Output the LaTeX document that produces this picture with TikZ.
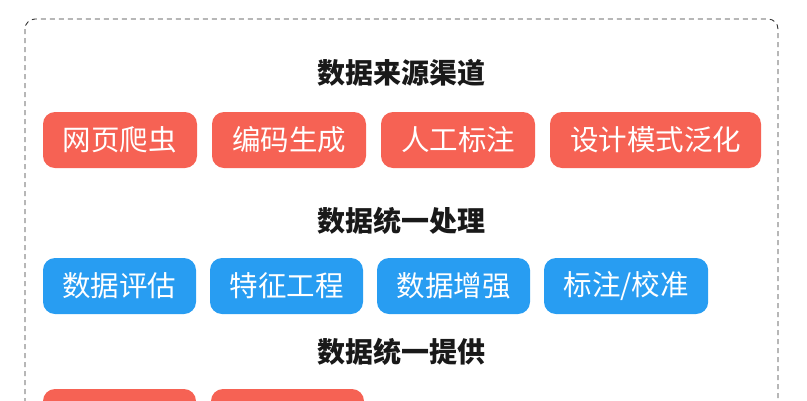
\documentclass[tikz,border=0pt]{standalone}
\usepackage{fontspec}
\setmainfont{Noto Sans CJK SC}
\usetikzlibrary{positioning}

\definecolor{boxred}{RGB}{246,98,84}
\definecolor{boxblue}{RGB}{40,157,242}
\definecolor{titleink}{RGB}{25,25,25}

\begin{document}
\begin{tikzpicture}[x=1pt,y=-1pt,
  title/.style={font=\fontsize{28}{32}\selectfont\bfseries,text=titleink,inner sep=0pt},
  tag/.style={rounded corners=12pt,minimum height=56pt,inner xsep=20pt,inner ysep=0pt,
    outer sep=0pt,text=white,font=\fontsize{28.5}{32}\selectfont},
  red/.style={tag,fill=boxred},
  blue/.style={tag,fill=boxblue,inner xsep=19.5pt},
  node distance=15pt]
\useasboundingbox (0,0) rectangle (807,400);
\draw[dash pattern=on 5pt off 4pt,line width=0.9pt,black!80,rounded corners=10pt]
  (25,19) rectangle (778,440);
% sources
\node[title] (src) at (401,73) {数据来源渠道};
\node[red,anchor=west] (s1) at (43,140) {网页爬虫};
\node[red,right=of s1] (s2) {编码生成};
\node[red,right=of s2] (s3) {人工标注};
\node[red,right=of s3] (s4) {设计模式泛化};
% processing
\node[title] (proc) at (401,221) {数据统一处理};
\node[blue,anchor=west] (p1) at (43,286) {数据评估};
\node[blue,right=14pt of p1] (p2) {特征工程};
\node[blue,right=14pt of p2] (p3) {数据增强};
\node[blue,right=14pt of p3] (p4) {标注/校准};
% provision
\node[title] (prov) at (401,352) {数据统一提供};
\node[red,anchor=west,minimum width=153pt] (v1) at (43,417) {};
\node[red,right=of v1,minimum width=153pt] (v2) {};
\end{tikzpicture}
\end{document}
